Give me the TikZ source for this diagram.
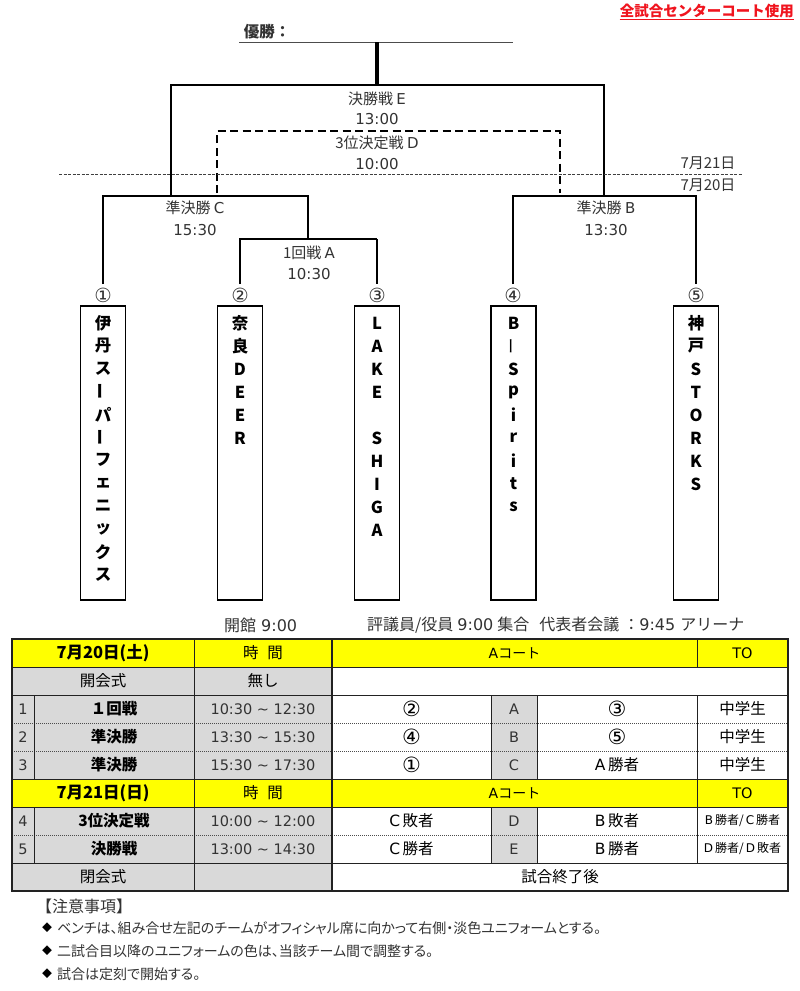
\documentclass[tikz,border=0pt]{standalone}
\usepackage{fontspec}
\usepackage{graphicx}
\setmainfont{Noto Sans CJK JP}
\newfontfamily\dv{DejaVu Sans}
\newfontfamily\cjkp[RawFeature=+palt]{Noto Sans CJK JP}
\definecolor{hdryel}{HTML}{FFFF00}
\definecolor{cellgr}{HTML}{D9D9D9}
\definecolor{txtg}{HTML}{333333}
\definecolor{redtx}{HTML}{F0141E}
\definecolor{lineg}{HTML}{222222}
\newcommand{\myfs}[1]{\fontsize{#1}{#1}\selectfont}
\begin{document}
\begin{tikzpicture}[x=1pt,y=-1pt,
  thickln/.style={line width=2.4pt, line join=miter},
  topln/.style={line width=3.2pt},
  thinln/.style={line width=1.6pt, line join=miter},
  dashln/.style={line width=2pt, dash pattern=on 8pt off 4.5pt, line join=miter},
  dateln/.style={line width=0.9pt, dash pattern=on 3pt off 1.5pt, draw=black!75},
  lbl/.style={font=\myfs{15}, inner sep=0, text=txtg},
  circn/.style={font=\dv\myfs{19.5}, inner sep=0, text=txtg},
  teambox/.style={draw, line width=1.2pt, minimum width=45pt, minimum height=294pt, inner sep=0},
  tchar/.style={font=\bfseries\myfs{16.5}, inner sep=0},
  tb/.style={font=\myfs{15.5}, inner sep=0},
  tcirc/.style={font=\dv\myfs{21}, inner sep=0},
  tbb/.style={font=\bfseries\myfs{15.5}, inner sep=0},
  tdv/.style={font=\dv\myfs{14.5}, inner sep=0, text=txtg},
  tsm/.style={font=\myfs{12}, inner sep=0},
  outerln/.style={line width=2pt, draw=lineg},
  innerln/.style={line width=0.9pt, draw=lineg},
  dotln/.style={line width=0.8pt, draw=black!70, dash pattern=on 1pt off 1pt}
]
\useasboundingbox[fill=white] (0,0) rectangle (800,991);

% ---------- header texts ----------
\node[font=\bfseries\myfs{14.5}, text=redtx, inner sep=0, anchor=east] (rt) at (794,11) {全試合センターコート使用};
\draw[redtx, line width=1pt] ([yshift=-1.5pt]rt.south west) -- ([yshift=-1.5pt]rt.south east);

\node[font=\bfseries\myfs{15.5}, inner sep=0, text=txtg] (yusho) at (267,32) {優勝：};

% ---------- bracket coordinates ----------
\coordinate (wl) at (239,42);
\coordinate (wr) at (513,42);
\coordinate (win) at (377,42);
\coordinate (fM) at (377,85);
\coordinate (fL) at (171,85);
\coordinate (fR) at (604,85);
\coordinate (cM) at (171,196);
\coordinate (bM) at (604,196);
\coordinate (cL) at (103,196);
\coordinate (cR) at (308,196);
\coordinate (aJ) at (308,239);
\coordinate (aL) at (240,239);
\coordinate (aR) at (377,239);
\coordinate (bL) at (513,196);
\coordinate (bR) at (696,196);
\coordinate (t1) at (103,284);
\coordinate (t2) at (240,284);
\coordinate (t3) at (377,284);
\coordinate (t4) at (513,284);
\coordinate (t5) at (696,284);
\coordinate (dBL) at (217,193);
\coordinate (dTL) at (217,131);
\coordinate (dTR) at (560,131);
\coordinate (dBR) at (560,193);
\coordinate (dl1) at (59,174);
\coordinate (dl2) at (742,174);

% winner line
\draw[line width=1pt, draw=black!70] (wl) -- (wr);
\draw[topln] (win) -- (fM);
% final E
\draw[thickln] (cM) -- (fL) -- (fR) -- (bM);
% 3rd place D
\draw[dashln] (dBL) -- (dTL) -- (dTR) -- (dBR);
% date line
\draw[dateln] (dl1) -- (dl2);
% semi C
\draw[thickln] (t1) -- (cL) -- (cR) -- (aJ);
% round A
\draw[thinln] (t2) -- (aL) -- (aR);
\draw[thickln] (aR) -- (t3);
% semi B
\draw[thickln] (t4) -- (bL) -- (bR) -- (t5);

% bracket labels
\node[lbl] (lE) at (377,99) {決勝戦 {\dv E}};
\node[lbl] (lEt) at (377,119) {\dv 13:00};
\node[lbl] (lD) at (377,143) {3位決定戦 {\dv D}};
\node[lbl] (lDt) at (377,164) {\dv 10:00};
\node[lbl] (d21) at (708,163) {7月21日};
\node[lbl] (d20) at (708,185) {7月20日};
\node[lbl] (lC) at (195,208) {準決勝 {\dv C}};
\node[lbl] (lCt) at (195,230) {\dv 15:30};
\node[lbl] (lA) at (309,253) {1回戦 {\dv A}};
\node[lbl] (lAt) at (309,274) {\dv 10:30};
\node[lbl] (lB) at (606,208) {準決勝 {\dv B}};
\node[lbl] (lBt) at (606,230) {\dv 13:30};

% circled numbers
\node[circn] (c1) at (103,295) {①};
\node[circn] (c2) at (240,295) {②};
\node[circn] (c3) at (377,295) {③};
\node[circn] (c4) at (513,295) {④};
\node[circn] (c5) at (696,295) {⑤};

% team boxes
\node[teambox] (b1) at (103,453) {};
\node[teambox] (b2) at (240,453) {};
\node[teambox] (b3) at (377,453) {};
\node[teambox] (b4) at (513.5,453) {};
\node[teambox] (b5) at (696,453) {};

\foreach \ch [count=\i] in {伊,丹,ス,{\rotatebox{90}{ー}},パ,{\rotatebox{90}{ー}},フ,ェ,ニ,ッ,ク,ス}
  \node[tchar] (ta\i) at (103,300+22.9*\i) {\ch};
\foreach \ch [count=\i] in {奈,良,D,E,E,R}
  \node[tchar] (tb\i) at (240,300+23*\i) {\ch};
\foreach \ch [count=\i] in {L,A,K,E,{},S,H,I,G,A}
  \node[tchar] (tc\i) at (377,300+23*\i) {\ch};
\foreach \ch [count=\i] in {B,{\mdseries\rotatebox{90}{ー}},S,p,i,r,i,t,s}
  \node[tchar] (td\i) at (513.5,300+23*\i) {\ch};
\foreach \ch [count=\i] in {神,戸,S,T,O,R,K,S}
  \node[tchar] (te\i) at (696,300+23*\i) {\ch};

% ---------- info line ----------
\node[font=\myfs{16}, inner sep=0, anchor=west, text=txtg] (kaikan) at (224,625) {開館\hspace{5pt}{\dv 9:00}};
\node[font=\myfs{16}, inner sep=0, anchor=west, text=txtg] (hyogi) at (367,625) {評議員/役員\hspace{4pt}{\dv 9:00}\hspace{4pt}集合\hspace{10pt}代表者会議\hspace{4pt}：{\dv 9:45}\hspace{5pt}アリーナ};

% ---------- table ----------
% fills
\fill[hdryel] (12,639) rectangle (788,667);
\fill[hdryel] (12,779) rectangle (788,807);
\fill[cellgr] (12,667) rectangle (332,779);
\fill[cellgr] (12,807) rectangle (332,891);
\fill[cellgr] (491,695) rectangle (537,779);
\fill[cellgr] (491,807) rectangle (537,863);

% dotted lines
\draw[dotln] (12,723) -- (788,723);
\draw[dotln] (12,751) -- (788,751);
\draw[dotln] (12,835) -- (788,835);
% inner solid horizontals
\draw[innerln] (12,667) -- (788,667);
\draw[innerln] (12,695) -- (788,695);
\draw[innerln] (12,779) -- (788,779);
\draw[innerln] (12,807) -- (788,807);
\draw[innerln] (12,863) -- (788,863);
% inner verticals
\draw[innerln] (194,639) -- (194,891);
\draw[innerln] (34,695) -- (34,779);
\draw[innerln] (34,807) -- (34,863);
\draw[innerln] (491,695) -- (491,779);
\draw[innerln] (537,695) -- (537,779);
\draw[innerln] (491,807) -- (491,863);
\draw[innerln] (537,807) -- (537,863);
\draw[innerln] (697,639) -- (697,667);
\draw[innerln] (697,695) -- (697,863);
\draw[outerln] (332,639) -- (332,891);
% outer border
\draw[outerln] (12,639) rectangle (788,891);

% header 1
\node[tbb, font=\bfseries\myfs{16.5}] (h1a) at (103,653) {7月20日(土)};
\node[tb] (h1b) at (263,653) {時\hspace{9pt}間};
\node[tb, font=\myfs{14}] (h1c) at (514.5,653) {{\dv A}コート};
\node[tdv, text=black] (h1d) at (742.5,653) {TO};
% opening
\node[tb] (op1) at (103,681) {開会式};
\node[tb] (op2) at (263,681) {無し};
% row 1
\node[tdv] (r1n) at (23,709) {1};
\node[tbb] (r1a) at (114,709) {１回戦};
\node[tdv] (r1t) at (263,709) {10:30 \textasciitilde{} 12:30};
\node[tcirc] (r1l) at (411.5,709) {②};
\node[tdv] (r1m) at (514,709) {A};
\node[tcirc] (r1r) at (617,709) {③};
\node[tb] (r1o) at (742.5,709) {中学生};
% row 2
\node[tdv] (r2n) at (23,737) {2};
\node[tbb] (r2a) at (114,737) {準決勝};
\node[tdv] (r2t) at (263,737) {13:30 \textasciitilde{} 15:30};
\node[tcirc] (r2l) at (411.5,737) {④};
\node[tdv] (r2m) at (514,737) {B};
\node[tcirc] (r2r) at (617,737) {⑤};
\node[tb] (r2o) at (742.5,737) {中学生};
% row 3
\node[tdv] (r3n) at (23,765) {3};
\node[tbb] (r3a) at (114,765) {準決勝};
\node[tdv] (r3t) at (263,765) {15:30 \textasciitilde{} 17:30};
\node[tcirc] (r3l) at (411.5,765) {①};
\node[tdv] (r3m) at (514,765) {C};
\node[tb] (r3r) at (617,765) {{\dv A}\,勝者};
\node[tb] (r3o) at (742.5,765) {中学生};
% header 2
\node[tbb, font=\bfseries\myfs{16.5}] (h2a) at (103,793) {7月21日(日)};
\node[tb] (h2b) at (263,793) {時\hspace{9pt}間};
\node[tb, font=\myfs{14}] (h2c) at (514.5,793) {{\dv A}コート};
\node[tdv, text=black] (h2d) at (742.5,793) {TO};
% row 4
\node[tdv] (r4n) at (23,821) {4};
\node[tbb] (r4a) at (114,821) {3位決定戦};
\node[tdv] (r4t) at (263,821) {10:00 \textasciitilde{} 12:00};
\node[tb] (r4l) at (411.5,821) {{\dv C}\,敗者};
\node[tdv] (r4m) at (514,821) {D};
\node[tb] (r4r) at (617,821) {{\dv B}\,敗者};
\node[tsm] (r4o) at (742.5,821) {{\dv B}\,勝者/\,{\dv C}\,勝者};
% row 5
\node[tdv] (r5n) at (23,849) {5};
\node[tbb] (r5a) at (114,849) {決勝戦};
\node[tdv] (r5t) at (263,849) {13:00 \textasciitilde{} 14:30};
\node[tb] (r5l) at (411.5,849) {{\dv C}\,勝者};
\node[tdv] (r5m) at (514,849) {E};
\node[tb] (r5r) at (617,849) {{\dv B}\,勝者};
\node[tsm] (r5o) at (742.5,849) {{\dv D}\,勝者/\,{\dv D}\,敗者};
% closing
\node[tb] (cl1) at (103,877) {閉会式};
\node[tb] (cl2) at (560,877) {試合終了後};

% ---------- notes ----------
\node[font=\myfs{16}, inner sep=0, anchor=west, text=txtg] (nt) at (36,906) {【注意事項】};
\node[font=\myfs{10}, inner sep=0] (bu1) at (47,928) {◆};
\node[font=\cjkp\myfs{14}, inner sep=0, anchor=west, text=txtg] (n1) at (57,928) {ベンチは、組み合せ左記のチームがオフィシャル席に向かって右側・淡色ユニフォームとする。};
\node[font=\myfs{10}, inner sep=0] (bu2) at (47,951) {◆};
\node[font=\cjkp\myfs{14}, inner sep=0, anchor=west, text=txtg] (n2) at (57,951) {二試合目以降のユニフォームの色は、当該チーム間で調整する。};
\node[font=\myfs{10}, inner sep=0] (bu3) at (47,974) {◆};
\node[font=\cjkp\myfs{14}, inner sep=0, anchor=west, text=txtg] (n3) at (57,974) {試合は定刻で開始する。};
\end{tikzpicture}
\end{document}
